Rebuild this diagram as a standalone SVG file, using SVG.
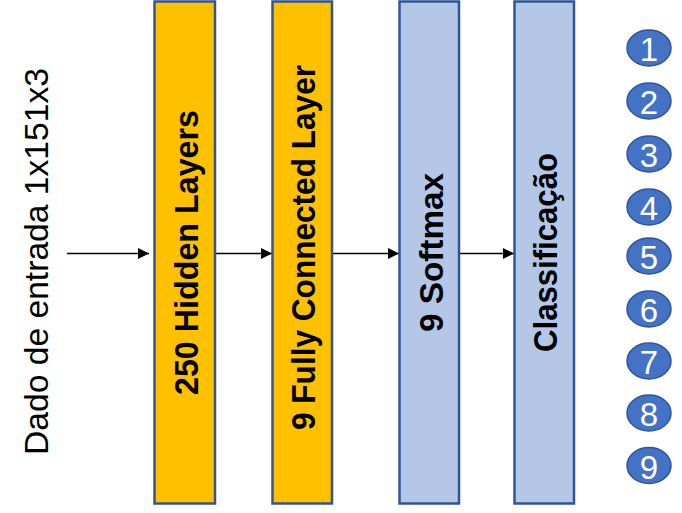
<svg xmlns="http://www.w3.org/2000/svg" width="682" height="513" viewBox="0 0 682 513">
<defs>
<style>
.box{stroke:#2F5597;stroke-width:2.5}
.y{fill:#FFC000}
.b{fill:#B4C7E7}
.lbl{font-family:"Liberation Sans",Arial,sans-serif;font-weight:bold;font-size:34px;fill:#000}
.in{font-family:"Liberation Sans",Arial,sans-serif;font-size:34px;fill:#000}
.c{fill:#4472C4;stroke:#2F5597;stroke-width:1.5}
.n{font-family:"Liberation Sans",Arial,sans-serif;font-size:33px;fill:#fff}
.arr{stroke:#000;stroke-width:1.3;fill:none;marker-end:url(#ah)}
</style>
<marker id="ah" viewBox="0 0 10 10" refX="10" refY="5" markerWidth="11" markerHeight="11" markerUnits="userSpaceOnUse" orient="auto">
<path d="M0,0 L10,5 L0,10 z" fill="#000"/>
</marker>
</defs>
<g id="input">
<text class="in" transform="translate(48,261.5) rotate(-90)" text-anchor="middle" textLength="387" lengthAdjust="spacingAndGlyphs">Dado de entrada 1x151x3</text>
</g>
<g id="connectors">
<line class="arr" x1="67" y1="253.5" x2="149" y2="253.5"/>
<line class="arr" x1="216" y1="253.5" x2="272" y2="253.5"/>
<line class="arr" x1="333" y1="253.5" x2="399" y2="253.5"/>
<line class="arr" x1="460" y1="253.5" x2="514" y2="253.5"/>
</g>
<g id="hidden">
<rect class="box y" x="154.5" y="1.5" width="60.5" height="502"/>
<text class="lbl" transform="translate(198,252.5) rotate(-90)" text-anchor="middle" textLength="285" lengthAdjust="spacingAndGlyphs">250 Hidden Layers</text>
</g>
<g id="fc">
<rect class="box y" x="272.5" y="1.5" width="59.5" height="502"/>
<text class="lbl" transform="translate(315,247.5) rotate(-90)" text-anchor="middle" textLength="365" lengthAdjust="spacingAndGlyphs">9 Fully Connected Layer</text>
</g>
<g id="softmax">
<rect class="box b" x="399.5" y="1.5" width="59.5" height="502"/>
<text class="lbl" transform="translate(443,252.5) rotate(-90)" text-anchor="middle" textLength="159" lengthAdjust="spacingAndGlyphs">9 Softmax</text>
</g>
<g id="classif">
<rect class="box b" x="514.5" y="1.5" width="59.5" height="502"/>
<text class="lbl" transform="translate(557,252.5) rotate(-90)" text-anchor="middle" textLength="199" lengthAdjust="spacingAndGlyphs">Classificação</text>
</g>
<g id="c1"><ellipse class="c" cx="649" cy="48" rx="22" ry="18"/><text class="n" x="649" y="61" text-anchor="middle">1</text></g>
<g id="c2"><ellipse class="c" cx="649" cy="101" rx="22" ry="18"/><text class="n" x="649" y="114" text-anchor="middle">2</text></g>
<g id="c3"><ellipse class="c" cx="649" cy="154" rx="22" ry="18"/><text class="n" x="649" y="167" text-anchor="middle">3</text></g>
<g id="c4"><ellipse class="c" cx="649" cy="207" rx="22" ry="18"/><text class="n" x="649" y="220" text-anchor="middle">4</text></g>
<g id="c5"><ellipse class="c" cx="649" cy="256" rx="22" ry="18"/><text class="n" x="649" y="269" text-anchor="middle">5</text></g>
<g id="c6"><ellipse class="c" cx="649" cy="309" rx="22" ry="18"/><text class="n" x="649" y="322" text-anchor="middle">6</text></g>
<g id="c7"><ellipse class="c" cx="649" cy="361" rx="22" ry="18"/><text class="n" x="649" y="374" text-anchor="middle">7</text></g>
<g id="c8"><ellipse class="c" cx="649" cy="413" rx="22" ry="18"/><text class="n" x="649" y="426" text-anchor="middle">8</text></g>
<g id="c9"><ellipse class="c" cx="649" cy="465.5" rx="22" ry="18"/><text class="n" x="649" y="478.5" text-anchor="middle">9</text></g>
</svg>
